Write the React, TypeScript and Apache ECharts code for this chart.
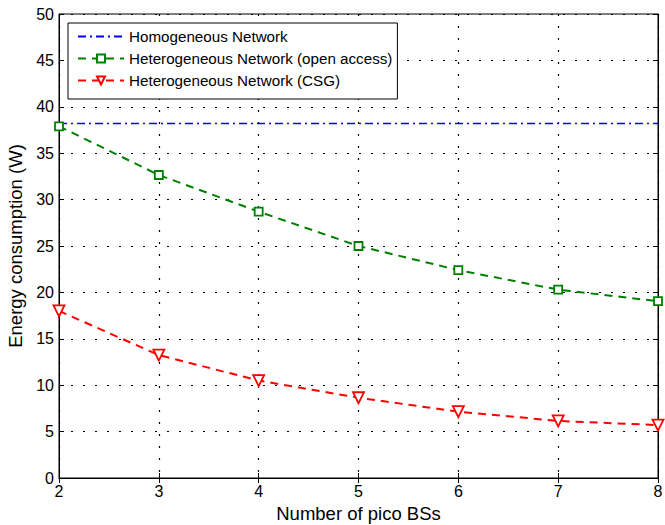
import React, { useEffect, useRef } from "react";
import * as echarts from "echarts";

const xValues = [2, 3, 4, 5, 6, 7, 8];
const homogeneous = [38.2, 38.2, 38.2, 38.2, 38.2, 38.2, 38.2];
const openAccess = [37.9, 32.65, 28.7, 25.0, 22.4, 20.3, 19.05];
const csg = [18.0, 13.25, 10.5, 8.65, 7.15, 6.15, 5.7];
const seriesNames = [
  "Homogeneous Network",
  "Heterogeneous Network (open access)",
  "Heterogeneous Network (CSG)",
];

const font = "Liberation Sans, Arial, Helvetica, sans-serif";

export default function App() {
  const ref = useRef<HTMLDivElement>(null);
  useEffect(() => {
    if (!ref.current) return;
    const chart = echarts.init(ref.current, null, { renderer: "svg" });
    const pair = (arr: number[]) => xValues.map((x, i) => [x, arr[i]]);
    const gridLine = { show: true, lineStyle: { color: "#000", type: [2, 10] as any, width: 1.2 } };
    chart.setOption({
      animation: false,
      backgroundColor: "#fff",
      textStyle: { fontFamily: font },
      grid: {
        left: 59,
        right: 7,
        top: 14,
        bottom: 47,
        show: true,
        borderColor: "#000",
        borderWidth: 1,
        outerBoundsMode: "none",
        containLabel: false,
      },
      legend: {
        left: 68,
        top: 23,
        orient: "vertical",
        padding: [6, 5, 11, 9],
        itemWidth: 46,
        itemHeight: 10,
        itemGap: 7,
        borderColor: "#000",
        borderWidth: 1,
        backgroundColor: "#fff",
        textStyle: { fontSize: 15.2, color: "#000", fontFamily: font },
        data: [
          { name: seriesNames[0], itemStyle: { opacity: 0 } },
          { name: seriesNames[1] },
          { name: seriesNames[2] },
        ],
      },
      xAxis: [
        {
          type: "value",
          min: 2,
          max: 8,
          interval: 1,
          name: "Number of pico BSs",
          nameLocation: "middle",
          nameGap: 20,
          nameTextStyle: { fontSize: 18.5, color: "#000", verticalAlign: "top" },
          axisLine: { lineStyle: { color: "#000" } },
          axisTick: { inside: true, length: 5, lineStyle: { color: "#000" } },
          axisLabel: { fontSize: 16, color: "#000", margin: 5 },
          splitLine: gridLine,
        },
        {
          type: "value",
          min: 2,
          max: 8,
          interval: 1,
          position: "top",
          axisLine: { show: true, lineStyle: { color: "#000" } },
          axisTick: { inside: true, length: 5, lineStyle: { color: "#000" } },
          axisLabel: { show: false },
          splitLine: { show: false },
        },
      ],
      yAxis: [
        {
          type: "value",
          min: 0,
          max: 50,
          interval: 5,
          name: "Energy consumption (W)",
          nameLocation: "middle",
          nameGap: 32,
          nameTextStyle: { fontSize: 18.5, color: "#000" },
          axisLine: { show: true, lineStyle: { color: "#000" } },
          axisTick: { show: true, inside: true, length: 5, lineStyle: { color: "#000" } },
          axisLabel: { fontSize: 16, color: "#000", margin: 5 },
          splitLine: gridLine,
        },
        {
          type: "value",
          min: 0,
          max: 50,
          interval: 5,
          position: "right",
          axisLine: { show: true, lineStyle: { color: "#000" } },
          axisTick: { show: true, inside: true, length: 5, lineStyle: { color: "#000" } },
          axisLabel: { show: false },
          splitLine: { show: false },
        },
      ],
      series: [
        {
          name: seriesNames[0],
          type: "line",
          data: pair(homogeneous),
          symbol: "circle",
          showSymbol: false,
          color: "#0000ff",
          lineStyle: { color: "#0000ff", width: 1.5, type: [8, 4, 2, 4] },
        },
        {
          name: seriesNames[1],
          type: "line",
          data: pair(openAccess),
          symbol: "rect",
          symbolSize: 8,
          color: "#008000",
          itemStyle: { color: "#fff", borderColor: "#008000", borderWidth: 1.8 },
          lineStyle: { color: "#008000", width: 2, type: [8, 6] },
        },
        {
          name: seriesNames[2],
          type: "line",
          data: pair(csg),
          symbol: "triangle",
          symbolRotate: 180,
          symbolSize: 11,
          color: "#ff0000",
          itemStyle: { color: "#fff", borderColor: "#ff0000", borderWidth: 1.8 },
          lineStyle: { color: "#ff0000", width: 2, type: [8, 6] },
          z: 3,
        },
      ],
    });
    return () => chart.dispose();
  }, []);
  return <div ref={ref} style={{ width: 665, height: 525, position: "absolute", left: 0, top: 0 }} />;
}
